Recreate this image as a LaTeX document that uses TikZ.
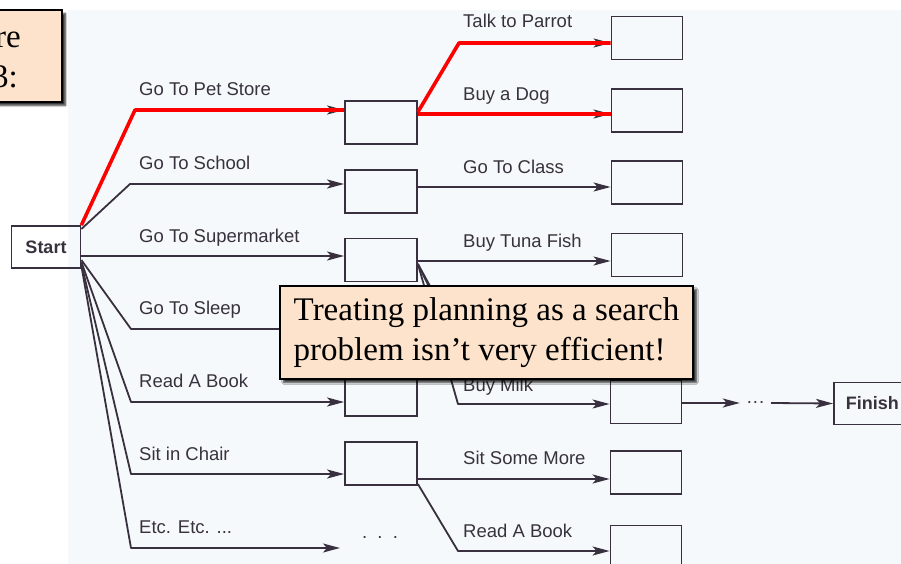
\documentclass[tikz,border=0pt]{standalone}
\usepackage{fontspec}
\setmainfont{Liberation Serif}
\setsansfont{Liberation Sans}
\usetikzlibrary{arrows.meta,shadows.blur}
\definecolor{ink}{HTML}{382F3F}
\definecolor{txt}{HTML}{38323E}
\definecolor{paper}{HTML}{F6F9FB}
\definecolor{peach}{HTML}{FDE3CB}
\definecolor{hilite}{HTML}{FF0000}

\begin{document}
\begin{tikzpicture}[x=1pt,y=-1pt,
  state/.style={draw=ink, line width=1.8pt, minimum width=72pt, minimum height=43pt, inner sep=0pt},
  term/.style={draw=ink, line width=1.8pt, minimum height=42pt, inner xsep=14pt,
    font=\sffamily\bfseries\fontsize{18}{20}\selectfont, text=txt},
  act/.style={anchor=base west, inner sep=0pt, font=\sffamily\fontsize{18.5}{20}\selectfont, text=txt},
  link/.style={draw=ink, line width=1.8pt, line join=round, -{Stealth[length=17pt,width=9pt,inset=4pt]}},
  route/.style={draw=hilite, line width=3.6pt, line join=round},
  note/.style={draw=black, line width=2pt, fill=peach,
    blur shadow={shadow xshift=3.5pt, shadow yshift=-3.5pt, shadow blur steps=5, shadow opacity=80}},
  notetext/.style={font=\fontsize{33}{40}\selectfont, text=black},
]
\useasboundingbox (0,0) rectangle (901,564);
\clip (0,0) rectangle (901,564);

% scanned page
\fill[paper] (68,10) rectangle (901,564);

% start and finish
\node[term] (start) at (46,247) {Start};
\node[term, anchor=west, inner xsep=12pt] (finish) at (833,403.5) {Finish};

% first level states
\node[state] (pet)    at (381,122.5) {};
\node[state] (school) at (381,191.5) {};
\node[state] (market) at (381,260) {};
\node[state] (readA)  at (381,394.5) {};
\node[state] (chair)  at (381,463.5) {};

% second level states
\node[state, minimum width=71pt] (parrot) at (647,38) {};
\node[state, minimum width=71pt] (dog)    at (647,110.5) {};
\node[state, minimum width=71pt] (class)  at (647,182.5) {};
\node[state, minimum width=71pt] (tuna)   at (647,255) {};
\node[state, minimum width=71pt] (milk)   at (646,402) {};
\node[state, minimum width=71pt] (more)   at (646,472.5) {};
\node[state, minimum width=71pt] (readB)  at (646,547) {};

% loose ends
\coordinate (sleepEnd) at (345,329);
\coordinate (etcEnd) at (340,548);
\coordinate (hidA) at (611,330);
\coordinate (hidB) at (611,306);
\node[inner sep=0pt, anchor=base, font=\sffamily\fontsize{18.5}{20}\selectfont, text=txt] (etcdots) at (380,538) {.\ \ .\ \ .};
\node[inner sep=0pt, minimum width=31pt, text height=8pt, text depth=0pt,
  font=\sffamily\fontsize{18.5}{20}\selectfont, text=txt] (gap) at (755.5,403) {···};

% actions from the start
\draw[link] (start.north east) -- (135,110) -- (pet.west |- 0,110);
\draw[link] (start.east |- 0,229) -- (130,184) -- (school.west |- 0,184);
\draw[link] (start.east |- 0,256) -- (market.west |- 0,256);
\draw[link] (start.east |- 0,260) -- (131,329) -- (sleepEnd);
\draw[link] (start.east |- 0,262) -- (131,402) -- (readA.west |- 0,402);
\draw[link] (start.east |- 0,264) -- (131,474) -- (chair.west |- 0,474);
\draw[link] (start.east |- 0,266) -- (131,548) -- (etcEnd);

% second actions
\draw[link] (pet.east |- 0,112) -- (459,43) -- (parrot.west |- 0,43);
\draw[link] (pet.east |- 0,114) -- (dog.west |- 0,114);
\draw[link] (school.east |- 0,187) -- (class.west |- 0,187);
\draw[link] (market.east |- 0,261) -- (tuna.west |- 0,261);
\draw[link] (market.east |- 0,264) -- (441,306) -- (hidB);
\draw[link] (market.east |- 0,264) -- (450,330) -- (hidA);
\draw[link] (market.east |- 0,264) -- (458,404) -- (milk.west |- 0,404);
\draw[link] (chair.east |- 0,479) -- (more.west |- 0,479);
\draw[link] (chair.east |- 0,484) -- (458,551) -- (readB.west |- 0,551);
\draw[link] (milk.east |- 0,403) -- (gap.west);
\draw[link] (gap.east) -- (finish.west);

% highlighted path
\draw[route] (start.north east) -- (135,110) -- (pet.west |- 0,110);
\draw[route] (pet.east |- 0,112) -- (459,43) -- (parrot.west |- 0,43);
\draw[route] (pet.east |- 0,114) -- (dog.west |- 0,114);

% action labels
\node[act] at (139,96)  {Go To Pet Store};
\node[act] at (139,169) {Go To School};
\node[act] at (139,242) {Go To Supermarket};
\node[act] at (139,314) {Go To Sleep};
\node[act] at (139,387) {Read A Book};
\node[act] at (139,460) {Sit in Chair};
\node[act] at (139,533) {Etc. Etc. ...};
\node[act] at (463,28)  {Talk to Parrot};
\node[act] at (463,101) {Buy a Dog};
\node[act] at (463,174) {Go To Class};
\node[act] at (463,247) {Buy Tuna Fish};
\node[act] at (463,391) {Buy Milk};
\node[act] at (463,464) {Sit Some More};
\node[act] at (463,537) {Read A Book};

% callouts
\node[note, minimum width=413pt, minimum height=93pt, inner sep=0pt, anchor=north west] (remark) at (279,285) {};
\node[notetext, align=left, inner sep=0pt] at (remark.center) {Treating planning as a search\\problem isn’t very efficient!};
\node[note, minimum width=90pt, minimum height=92pt, inner sep=0pt, anchor=north east] (caption) at (63,9) {};
\node[notetext, anchor=base east, inner sep=0pt] at (21,48) {re};
\node[notetext, anchor=base east, inner sep=0pt] at (18,88) {3:};
\end{tikzpicture}
\end{document}
